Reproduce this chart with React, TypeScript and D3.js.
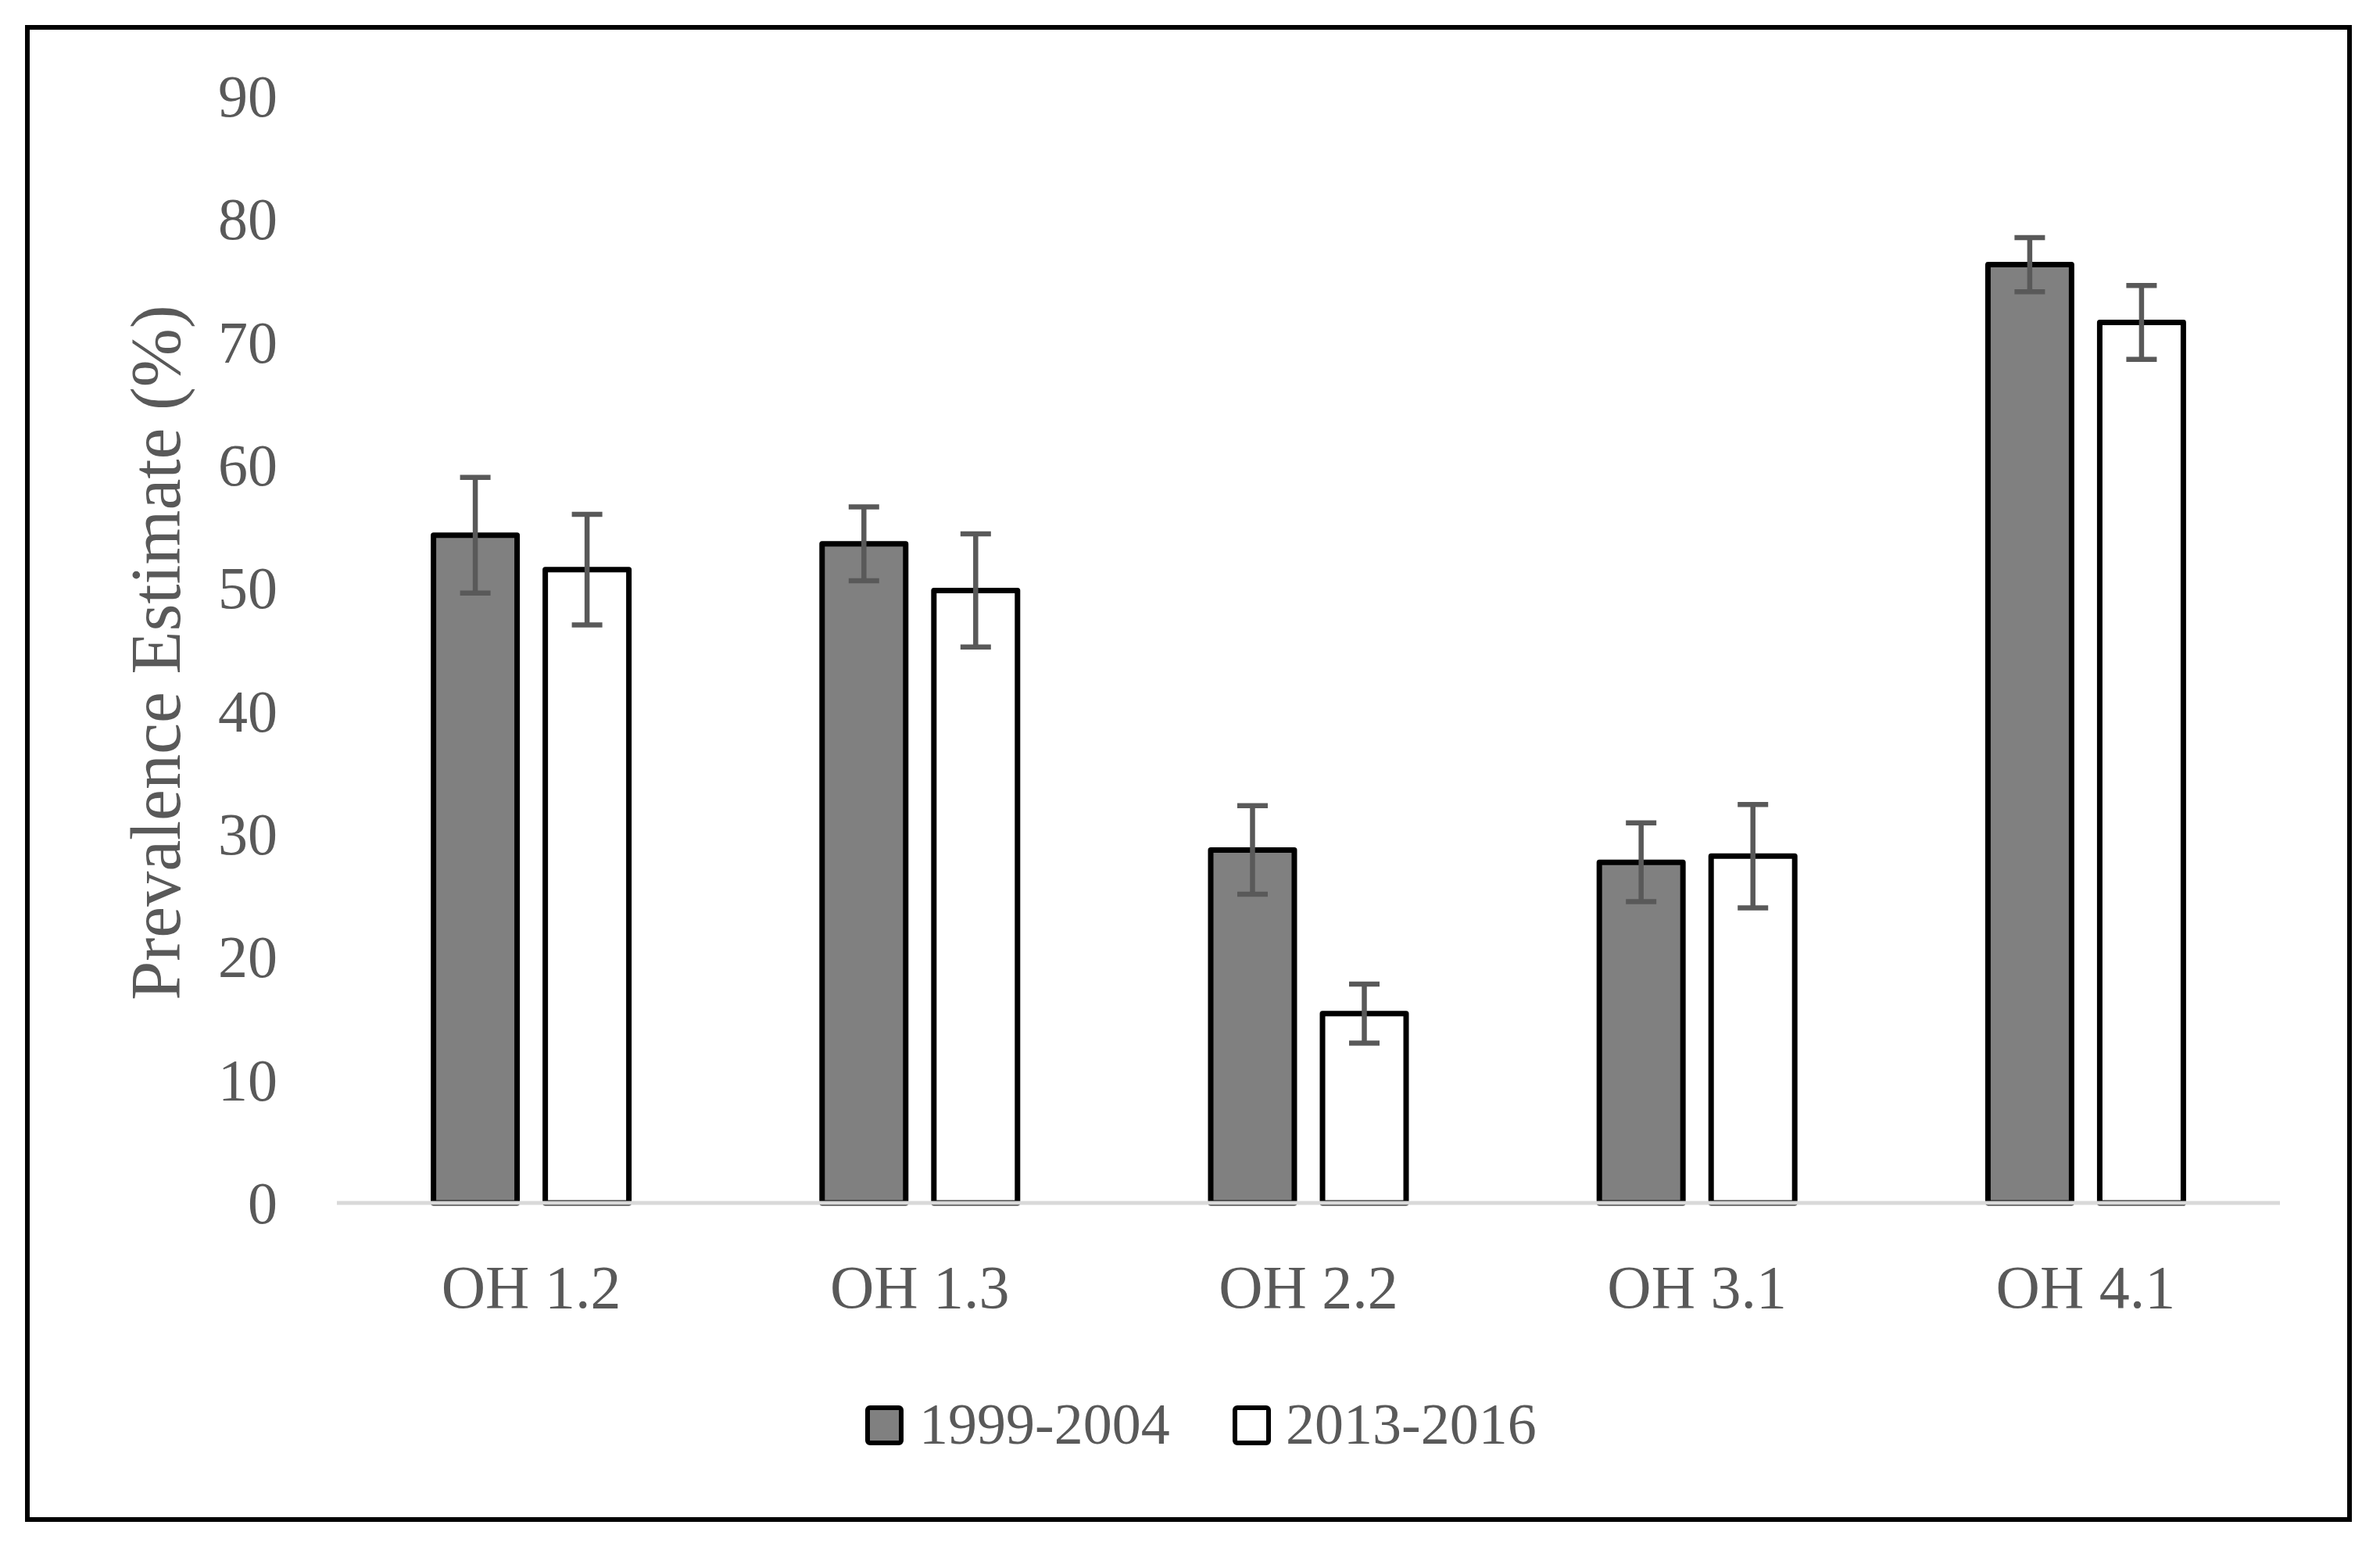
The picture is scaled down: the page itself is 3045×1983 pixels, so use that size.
import React from "react";
import * as d3 from "d3";

const categories = ["OH 1.2", "OH 1.3", "OH 2.2", "OH 3.1", "OH 4.1"];
const seriesNames = ["1999-2004", "2013-2016"];
const values1999 = [54.3, 53.6, 28.7, 27.7, 76.3];
const err1999 = [4.7, 3.0, 3.6, 3.2, 2.2];
const values2013 = [51.5, 49.8, 15.4, 28.2, 71.6];
const err2013 = [4.5, 4.6, 2.4, 4.2, 3.0];
const yTicks = [0, 10, 20, 30, 40, 50, 60, 70, 80, 90];

const W = 3045;
const H = 1983;
const FONT = "'Liberation Serif', 'Times New Roman', serif";
const TEXT = "#595959";
const fills = ["#808080", "#ffffff"];

export default function App() {
  const x0 = d3.scaleBand<string>().domain(categories).range([431, 2917]).padding(0);
  const x1 = d3.scaleBand<string>().domain(seriesNames).range([-125, 125]).paddingInner(0.252).paddingOuter(0);
  const y = d3.scaleLinear().domain([0, 90]).range([1539, 123]);

  const series = [
    { name: seriesNames[0], vals: values1999, errs: err1999, fill: fills[0] },
    { name: seriesNames[1], vals: values2013, errs: err2013, fill: fills[1] },
  ];

  const bw = x1.bandwidth();
  const cap = 19.5;

  return (
    <svg width={W} height={H} style={{ position: "absolute", left: 0, top: 0, background: "#fff" }}>
      <rect x={0} y={0} width={W} height={H} fill="#fff" />
      <rect x={35} y={35} width={2971} height={1909} fill="none" stroke="#000" strokeWidth={6} />

      {/* y tick labels */}
      {yTicks.map((t) => (
        <text key={t} x={355} y={y(t)} dy="0.34em" textAnchor="end" fontFamily={FONT} fontSize={76} fill={TEXT}>
          {t}
        </text>
      ))}

      {/* y title */}
      <text
        transform={`translate(230, ${(y(0) + y(90)) / 2 + 4}) rotate(-90)`}
        textAnchor="middle"
        fontFamily={FONT}
        fontSize={90}
        fill={TEXT}
      >
        Prevalence Estimate (%)
      </text>

      {/* bars */}
      {series.map((s) =>
        categories.map((c, i) => {
          const cx = (x0(c) as number) + x0.bandwidth() / 2 + (x1(s.name) as number);
          return (
            <rect
              key={s.name + c}
              x={cx}
              y={y(s.vals[i])}
              width={bw}
              height={y(0) - y(s.vals[i])}
              fill={s.fill}
              stroke="#000"
              strokeWidth={7}
              strokeLinejoin="round"
            />
          );
        })
      )}

      {/* baseline */}
      <line x1={431} x2={2917} y1={y(0)} y2={y(0)} stroke="#d9d9d9" strokeWidth={5} />

      {/* error bars */}
      {series.map((s) =>
        categories.map((c, i) => {
          const cx = (x0(c) as number) + x0.bandwidth() / 2 + (x1(s.name) as number) + bw / 2;
          const hi = y(s.vals[i] + s.errs[i]);
          const lo = y(s.vals[i] - s.errs[i]);
          return (
            <g key={"e" + s.name + c} stroke="#595959" strokeWidth={6.5}>
              <line x1={cx} x2={cx} y1={hi} y2={lo} />
              <line x1={cx - cap} x2={cx + cap} y1={hi} y2={hi} />
              <line x1={cx - cap} x2={cx + cap} y1={lo} y2={lo} />
            </g>
          );
        })
      )}

      {/* x labels */}
      {categories.map((c) => (
        <text
          key={c}
          x={(x0(c) as number) + x0.bandwidth() / 2}
          y={1673}
          textAnchor="middle"
          fontFamily={FONT}
          fontSize={78}
          fill={TEXT}
        >
          {c}
        </text>
      ))}

      {/* legend */}
      <g>
        <rect x={1110} y={1801} width={43} height={45} rx={3} fill={fills[0]} stroke="#000" strokeWidth={6} />
        <text x={1176} y={1847} fontFamily={FONT} fontSize={74} fill={TEXT}>
          {seriesNames[0]}
        </text>
        <rect x={1580} y={1801} width={43} height={45} rx={3} fill={fills[1]} stroke="#000" strokeWidth={6} />
        <text x={1645} y={1847} fontFamily={FONT} fontSize={74} fill={TEXT}>
          {seriesNames[1]}
        </text>
      </g>
    </svg>
  );
}
